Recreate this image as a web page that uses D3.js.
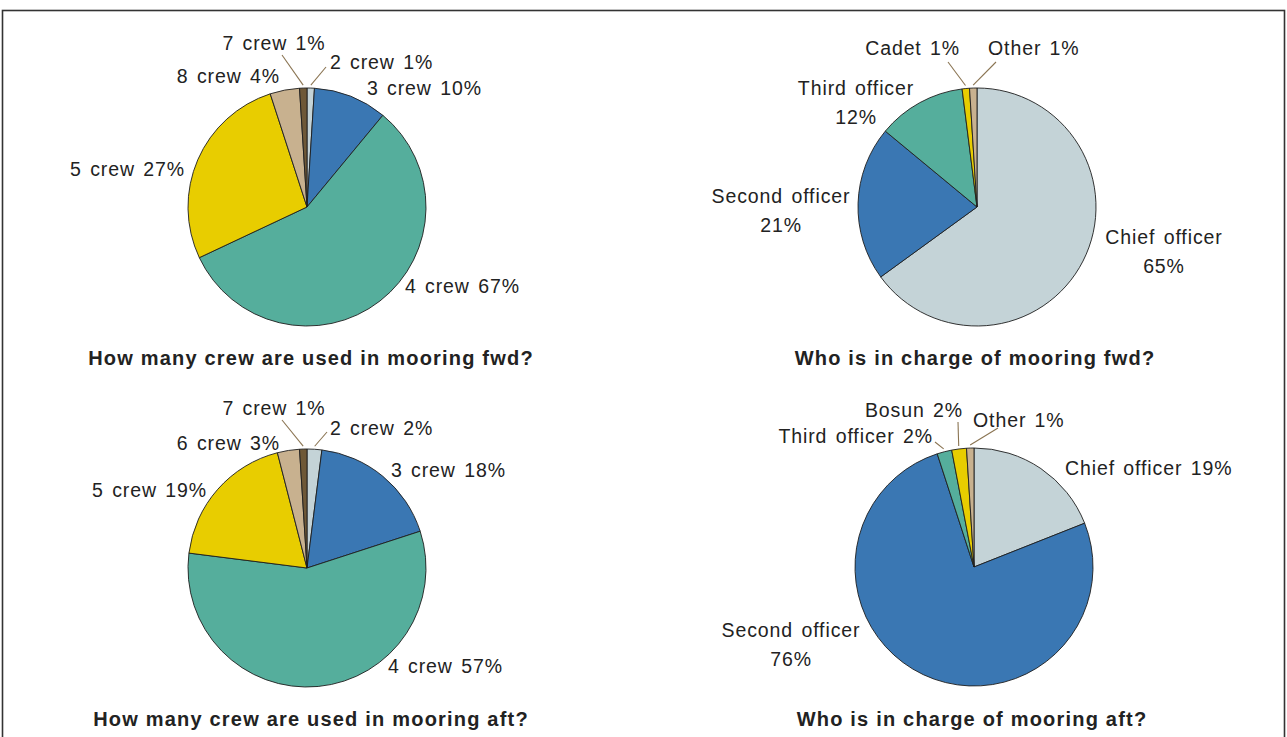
<!DOCTYPE html>
<html>
<head>
<meta charset="utf-8">
<script src="https://d3js.org/d3.v7.min.js"></script>
<style>
  body { margin: 0; background: #fff; }
  text { font-family: "Liberation Sans", Arial, Helvetica, sans-serif; fill: #222; }
  .lbl { font-size: 19.5px; letter-spacing: 0.9px; word-spacing: 2px; }
  .ttl { font-size: 20px; font-weight: bold; letter-spacing: 1.2px; }
</style>
</head>
<body>
<svg id="chart" width="1287" height="737"></svg>
<script>
// --- data ---
// crew fwd: slice sizes as drawn; the printed label for 4 crew says 67%
var crewFwdCats = ["2 crew", "3 crew", "4 crew", "5 crew", "8 crew", "7 crew"];
var crewFwdVals = [1, 10, 57, 27, 4, 1];
var crewFwdPrinted = ["1%", "10%", "67%", "27%", "4%", "1%"];

var chargeFwdCats = ["Chief officer", "Second officer", "Third officer", "Cadet", "Other"];
var chargeFwdVals = [65, 21, 12, 1, 1];

var crewAftCats = ["2 crew", "3 crew", "4 crew", "5 crew", "6 crew", "7 crew"];
var crewAftVals = [2, 18, 57, 19, 3, 1];

var chargeAftCats = ["Chief officer", "Second officer", "Third officer", "Bosun", "Other"];
var chargeAftVals = [19, 76, 2, 2, 1];

var titles = ["How many crew are used in mooring fwd?", "Who is in charge of mooring fwd?",
              "How many crew are used in mooring aft?", "Who is in charge of mooring aft?"];

// colours by category
var color = d3.scaleOrdinal()
  .domain(["2 crew", "3 crew", "4 crew", "5 crew", "6 crew", "8 crew", "7 crew",
           "Chief officer", "Second officer", "Third officer", "Cadet", "Bosun", "Other"])
  .range(["#c4d3d7", "#3a77b3", "#55ae9c", "#e8cd00", "#c8b18f", "#c8b18f", "#6e5837",
          "#c4d3d7", "#3a77b3", "#55ae9c", "#e8cd00", "#e8cd00", "#c8b18f"]);

// label placement relative to pie centre: [dx, dy, anchor, split, leaderEnd]
var layoutTL = {
  "2 crew": [23, -138, "start", false, [19, -140]],
  "3 crew": [60, -112, "start", false],
  "4 crew": [98, 86, "start", false],
  "5 crew": [-122, -31, "end", false],
  "8 crew": [-27, -124, "end", false],
  "7 crew": [-33, -157, "middle", false, [-25, -152]]
};
var layoutTR = {
  "Chief officer": [187, 37, "middle", true],
  "Second officer": [-196, -4, "middle", true],
  "Third officer": [-121, -112, "middle", true],
  "Cadet": [-17, -152, "end", false, [-29, -145]],
  "Other": [11, -152, "start", false, [19, -145]]
};
var layoutBL = {
  "2 crew": [23, -133, "start", false, [20, -136]],
  "3 crew": [84, -91, "start", false],
  "4 crew": [81, 105, "start", false],
  "5 crew": [-100, -71, "end", false],
  "6 crew": [-27, -118, "end", false],
  "7 crew": [-33, -153, "middle", false, [-25, -148]]
};
var layoutBR = {
  "Chief officer": [91, -92, "start", false],
  "Second officer": [-183, 70, "middle", true],
  "Third officer": [-41, -124, "end", false, [-39, -125]],
  "Bosun": [-11, -150, "end", false, [-16, -145]],
  "Other": [-1, -140, "start", false, [24, -139]]
};

var svg = d3.select("#chart");
var radius = 119;

// outer frame
svg.append("rect")
  .attr("x", 2.5).attr("y", 10.5)
  .attr("width", 1282).attr("height", 760)
  .attr("fill", "none").attr("stroke", "#333").attr("stroke-width", 1.6);

var pie = d3.pie().sort(null);
var arc = d3.arc().innerRadius(0).outerRadius(radius);
var edge = d3.arc().innerRadius(radius + 3).outerRadius(radius + 3);

function drawPie(cx, cy, cats, vals, printed, layout, title, titleX, titleY) {
  var g = svg.append("g").attr("transform", "translate(" + cx + "," + cy + ")");
  var arcs = pie(vals);

  g.selectAll("path.slice")
    .data(arcs)
    .enter()
    .append("path")
      .attr("class", "slice")
      .attr("d", arc)
      .attr("fill", function(d, i) { return color(cats[i]); })
      .attr("stroke", "#1e1e1e")
      .attr("stroke-width", 0.9);

  arcs.forEach(function(d, i) {
    var L = layout[cats[i]];
    var pct = (printed ? printed[i] : vals[i] + "%");
    if (L[4]) {
      var p = edge.centroid(d);
      g.append("line")
        .attr("x1", p[0]).attr("y1", p[1])
        .attr("x2", L[4][0]).attr("y2", L[4][1])
        .attr("stroke", "#8a7452").attr("stroke-width", 1.1);
    }
    var t = g.append("text")
      .attr("class", "lbl")
      .attr("text-anchor", L[2])
      .attr("x", L[0]).attr("y", L[1]);
    if (L[3]) {
      t.append("tspan").attr("x", L[0]).text(cats[i]);
      t.append("tspan").attr("x", L[0]).attr("dy", 29).text(pct);
    } else {
      t.text(cats[i] + " " + pct);
    }
  });

  svg.append("text")
    .attr("class", "ttl")
    .attr("text-anchor", "middle")
    .attr("x", titleX).attr("y", titleY)
    .text(title);
}

drawPie(307, 207, crewFwdCats, crewFwdVals, crewFwdPrinted, layoutTL, titles[0], 311, 365);
drawPie(977, 207, chargeFwdCats, chargeFwdVals, null, layoutTR, titles[1], 975, 365);
drawPie(307, 568, crewAftCats, crewAftVals, null, layoutBL, titles[2], 311, 726);
drawPie(974, 567, chargeAftCats, chargeAftVals, null, layoutBR, titles[3], 972, 726);
</script>
</body>
</html>
